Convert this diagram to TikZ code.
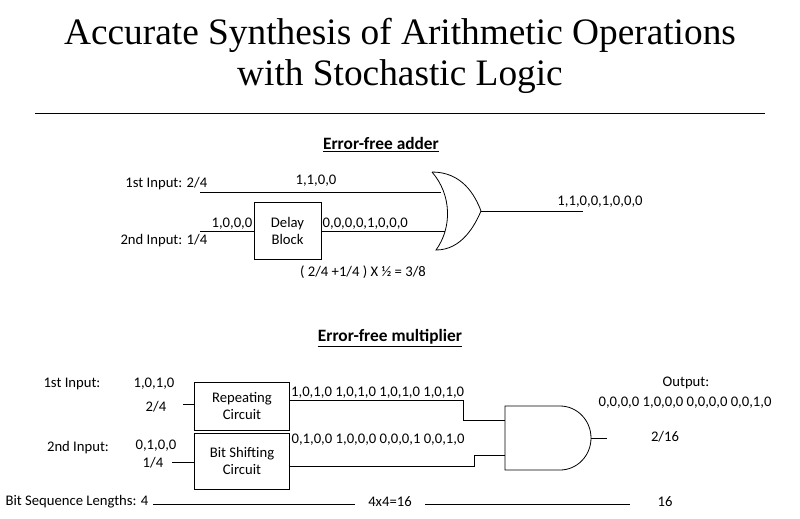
\documentclass[tikz,border=0pt]{standalone}
\usepackage{fontspec}
\setmainfont{Carlito}
\newfontfamily\titlefont{Liberation Serif}
\usetikzlibrary{positioning}

\begin{document}
\begin{tikzpicture}[
    x=0.75pt, y=-0.75pt,
    font=\fontsize{11}{13}\selectfont,
    block/.style={rectangle, draw=black, align=center, inner sep=0pt},
    wire/.style={draw=black, semithick},
    heading/.style={font=\fontsize{13}{15}\selectfont\bfseries}
]
\useasboundingbox (0,0) rectangle (800,518);

% Title
\node[font=\fontsize{28}{31}\selectfont\titlefont, align=center] (title) at (400,56)
  {Accurate Synthesis of Arithmetic Operations\\with Stochastic Logic};
\coordinate (ruleL) at (35,113);
\coordinate (ruleR) at (765,113);
\draw (ruleL) -- (ruleR);

% Adder
\node[heading] (addhead) at (381,145) {\underline{Error-free adder}};
\node[anchor=east] (in1) at (212,184) {1st Input: 2/4};
\node[anchor=east] (in2) at (212,241) {2nd Input: 1/4};
\node[block, minimum width=50pt, minimum height=43pt] (delay) at (287.5,231) {Delay\\Block};
\coordinate (a1) at (200,192);
\coordinate (a2) at (200,231);
\coordinate (or1) at (441,192);
\coordinate (or2) at (445,231);
\coordinate (orout) at (481,211);
\coordinate (outend) at (583,211);
\draw[semithick] (432,172) .. controls (452,195) and (452,228) .. (436,250)
  .. controls (462,250) and (475,225) .. (orout)
  .. controls (475,195) and (462,172) .. (432,172);
\draw[wire] (a1) -- (or1);
\draw[wire] (a2) -- (delay.west);
\draw[wire] (delay.east |- or2) -- (or2);
\draw[wire] (orout) -- (outend);
\node (seqA) at (316,181) {1,1,0,0};
\node[anchor=south east, inner sep=1pt] (seqB) at (delay.west |- a2) {1,0,0,0};
\node[anchor=south west, inner sep=1pt] (seqC) at (delay.east |- or2) {0,0,0,0,1,0,0,0};
\node (seqD) at (600,202) {1,1,0,0,1,0,0,0};
\node (calc) at (363,272) {( 2/4 +1/4 ) X \textonehalf\ = 3/8};

% Multiplier
\node[heading] (mulhead) at (390,338) {\underline{Error-free multiplier}};
\node[block, minimum width=71pt, minimum height=36pt] (rep) at (242,406) {Repeating\\Circuit};
\node[block, minimum width=71pt, minimum height=42pt] (shift) at (242,461) {Bit Shifting\\Circuit};
\node (m1) at (72,384) {1st Input:};
\node (m1a) at (154,384) {1,0,1,0};
\node (m1b) at (156,407) {2/4};
\node (m2) at (78,448) {2nd Input:};
\node (m2a) at (156,446) {0,1,0,0};
\node (m2b) at (153,463) {1/4};
\coordinate (r0) at (183,404);
\coordinate (s0) at (172,462);
\draw[wire] (r0) -- (r0 -| rep.west);
\draw[wire] (s0) -- (s0 -| shift.west);
% AND gate
\coordinate (and1) at (505,420);
\coordinate (and2) at (505,455);
\coordinate (andout) at (591,438);
\draw[semithick] (505,406) -- (560,406) arc (-90:90:31 and 32) -- (505,470) -- cycle;
\draw[wire] (rep.east |- 0,400) -- (463,400) |- (and1);
\draw[wire] (shift.east |- 0,466) -- (474,466) |- (and2);
\draw[wire] (andout) -- (607,438);
\node[anchor=south west, inner sep=1pt] (seqR) at (rep.east |- 0,400) {1,0,1,0 1,0,1,0 1,0,1,0 1,0,1,0};
\node[anchor=west, inner sep=1pt] (seqS) at (290,440) {0,1,0,0 1,0,0,0 0,0,0,1 0,0,1,0};
\node (outlbl) at (686,383) {Output:};
\node (outseq) at (685,403) {0,0,0,0 1,0,0,0 0,0,0,0 0,0,1,0};
\node (outval) at (665,437) {2/16};

% Lengths
\node[anchor=west, inner sep=1pt] (lenlbl) at (4,502) {Bit Sequence Lengths: 4};
\node (len2) at (390,502) {4x4=16};
\node (len3) at (665,502) {16};
\draw (lenlbl.east) ++(3,2) -- (355,504);
\draw (425,504) -- (630,504);
\end{tikzpicture}
\end{document}
